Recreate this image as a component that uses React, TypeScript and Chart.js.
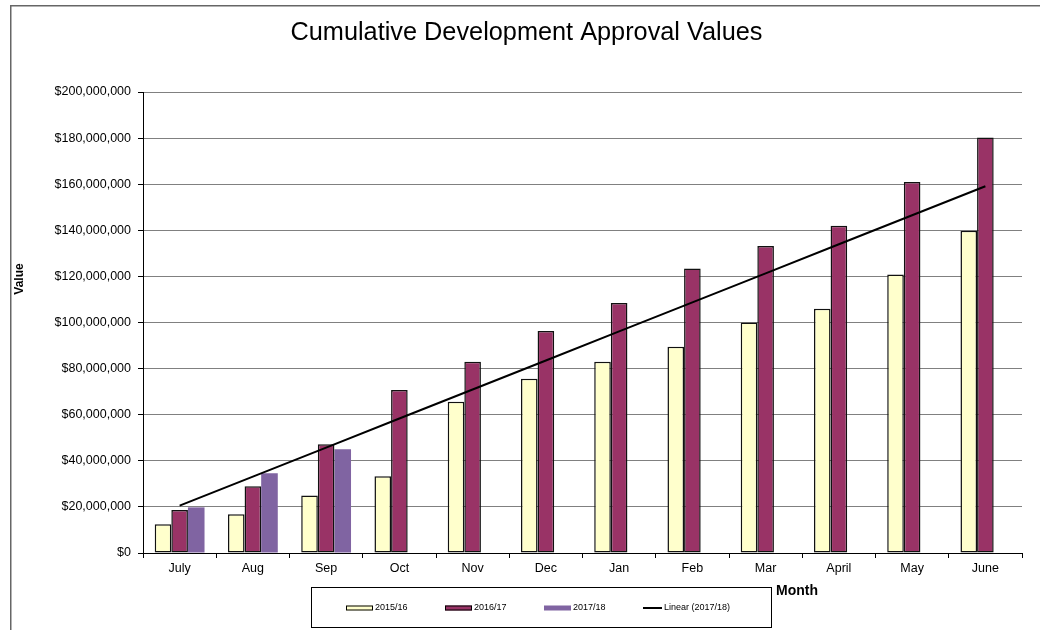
import React, { useEffect, useRef } from 'react';
import { Chart, registerables } from 'chart.js';

Chart.register(...registerables);

const FONT = "'Liberation Sans', Arial, sans-serif";

const months = ['July', 'Aug', 'Sep', 'Oct', 'Nov', 'Dec', 'Jan', 'Feb', 'Mar', 'April', 'May', 'June'];
const series2015 = [12.5, 16.8, 25.0, 33.3, 65.6, 75.6, 83.0, 89.5, 100.0, 106.0, 120.8, 139.8].map(v => v * 1e6);
const series2016 = [18.7, 29.0, 47.2, 70.7, 83.0, 96.3, 108.5, 123.4, 133.2, 142.0, 161.0, 180.3].map(v => v * 1e6);
const series2017 = [19.8, 34.6, 45.0].map(v => v * 1e6);
const seriesLabels = ['2015/16', '2016/17', '2017/18', 'Linear (2017/18)'];
const seriesColors = ['#FFFFCC', '#993366', '#8064A2', '#000000'];
const yTicks = { min: 0, max: 200e6, step: 20e6 };

// least-squares trend of the 2017/18 series, evaluated at every month
function linearTrend(vals: number[], n: number): number[] {
  const m = vals.length;
  const xs = vals.map((_, i) => i);
  const mx = xs.reduce((a, b) => a + b, 0) / m;
  const my = vals.reduce((a, b) => a + b, 0) / m;
  let num = 0, den = 0;
  xs.forEach((x, i) => { num += (x - mx) * (vals[i] - my); den += (x - mx) * (x - mx); });
  const slope = num / den;
  const icpt = my - slope * mx;
  return Array.from({ length: n }, (_, i) => icpt + slope * i);
}

const fmtMoney = (v: number) => '$' + Math.round(v).toLocaleString('en-US');

const decorPlugin = {
  id: 'decor',
  beforeDraw(chart: any) {
    const ctx = chart.ctx;
    ctx.save();
    ctx.fillStyle = '#ffffff';
    ctx.fillRect(0, 0, chart.width, chart.height);
    ctx.strokeStyle = '#666666';
    ctx.lineWidth = 1.5;
    ctx.strokeRect(10.75, 5.75, 1100, 1000);
    ctx.restore();
  },
  afterDraw(chart: any) {
    const ctx = chart.ctx;
    ctx.save();
    // title
    ctx.fillStyle = '#000';
    ctx.font = `25.3px ${FONT}`;
    ctx.textAlign = 'center';
    ctx.textBaseline = 'alphabetic';
    ctx.fillText('Cumulative Development Approval Values', 526.5, 40);
    // y title
    ctx.save();
    ctx.translate(20, 279);
    ctx.rotate(-Math.PI / 2);
    ctx.font = `bold 12px ${FONT}`;
    ctx.textAlign = 'center';
    ctx.textBaseline = 'middle';
    ctx.fillText('Value', 0, 0);
    ctx.restore();
    // x title
    ctx.font = `bold 14px ${FONT}`;
    ctx.textAlign = 'left';
    ctx.textBaseline = 'alphabetic';
    ctx.fillText('Month', 776, 595);
    // legend box
    ctx.fillStyle = '#fff';
    ctx.fillRect(311.5, 587.5, 460, 40);
    ctx.strokeStyle = '#000';
    ctx.lineWidth = 1;
    ctx.strokeRect(311.5, 587.5, 460, 40);
    const itemX = [346, 445, 544, 643];
    const cy = 608;
    chart.data.datasets.forEach((ds: any, i: number) => {
      const x = itemX[i];
      if (ds.type === 'line') {
        ctx.strokeStyle = ds.borderColor;
        ctx.lineWidth = 2;
        ctx.beginPath();
        ctx.moveTo(x, cy);
        ctx.lineTo(x + 19, cy);
        ctx.stroke();
      } else {
        ctx.fillStyle = ds.backgroundColor;
        ctx.fillRect(x, cy - 2.5, 27, 5);
        if (ds.borderWidth > 0) {
          ctx.strokeStyle = '#000';
          ctx.lineWidth = 1;
          ctx.strokeRect(x + 0.5, cy - 2, 26, 4);
        }
      }
      ctx.fillStyle = '#000';
      ctx.font = `9px ${FONT}`;
      ctx.textAlign = 'left';
      ctx.textBaseline = 'middle';
      ctx.fillText(ds.label, x + (ds.type === 'line' ? 21 : 29), cy);
    });
    ctx.restore();
  },
};

export default function App() {
  const ref = useRef<HTMLCanvasElement>(null);
  useEffect(() => {
    const trend = linearTrend(series2017, months.length);
    const chart = new Chart(ref.current!, {
      type: 'bar',
      data: {
        labels: months,
        datasets: [
          {
            label: seriesLabels[0], data: series2015, backgroundColor: seriesColors[0],
            borderColor: '#111', borderWidth: 1.5, borderSkipped: false,
            barPercentage: 1, categoryPercentage: 0.68, order: 1,
          } as any,
          {
            label: seriesLabels[1], data: series2016, backgroundColor: seriesColors[1],
            borderColor: '#111', borderWidth: 1.5, borderSkipped: false,
            barPercentage: 1, categoryPercentage: 0.68, order: 1,
          },
          {
            label: seriesLabels[2], data: series2017, backgroundColor: seriesColors[2],
            borderColor: seriesColors[2], borderWidth: 0, barPercentage: 1, categoryPercentage: 0.68, order: 1,
          },
          {
            type: 'line', label: seriesLabels[3], data: trend, borderColor: seriesColors[3],
            borderWidth: 2, pointRadius: 0, fill: false, tension: 0, order: 0,
          },
        ],
      },
      options: {
        responsive: false,
        devicePixelRatio: 1,
        animation: false,
        layout: { padding: { top: 92, right: 18, left: 0, bottom: 0 } },
        plugins: { legend: { display: false }, title: { display: false }, tooltip: { enabled: false } },
        scales: {
          x: {
            offset: true,
            grid: { display: true, drawOnChartArea: false, drawTicks: true, tickLength: 5, tickColor: '#000', offset: true },
            border: { display: true, color: '#000', width: 1 },
            ticks: { color: '#000', font: { family: FONT, size: 12.5 }, padding: 3, maxRotation: 0, autoSkip: false },
            afterFit: (s: any) => { s.height = 77; },
          },
          y: {
            min: yTicks.min,
            max: yTicks.max,
            grid: { color: '#808080', tickColor: '#000', tickLength: 5, lineWidth: 1 },
            border: { display: true, color: '#000', width: 1 },
            ticks: {
              stepSize: yTicks.step, color: '#000', font: { family: FONT, size: 12.5 }, padding: 7,
              callback: (v: any) => fmtMoney(Number(v)),
            },
            afterFit: (s: any) => { s.width = 143; },
          },
        },
      },
      plugins: [decorPlugin],
    });
    return () => chart.destroy();
  }, []);
  return (
    <div style={{ position: 'fixed', left: 0, top: 0, width: 1040, height: 630, background: '#fff' }}>
      <canvas ref={ref} width={1040} height={630} style={{ display: 'block', width: 1040, height: 630 }} />
    </div>
  );
}
